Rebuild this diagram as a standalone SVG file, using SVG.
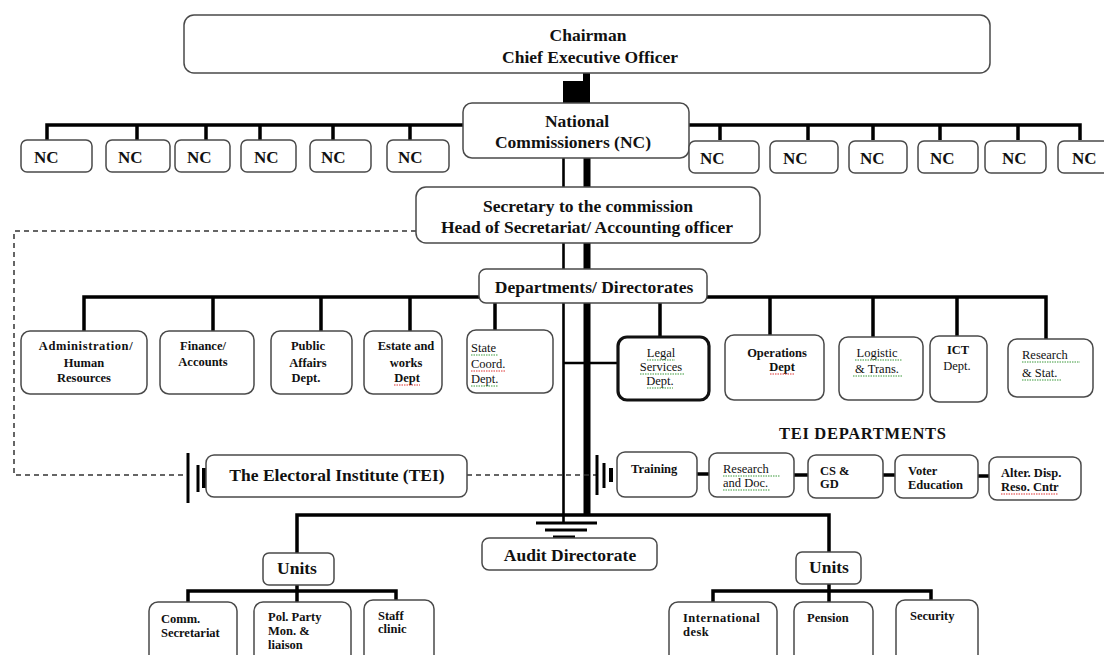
<svg xmlns="http://www.w3.org/2000/svg" width="1104" height="655" viewBox="0 0 1104 655">
<style>
  .box{fill:#fff;stroke:#4a4a4a;stroke-width:1.5}
  .thick{fill:#fff;stroke:#111;stroke-width:3.2}
  .ln{stroke:#000;stroke-width:3.5;fill:none}
  .ln2{stroke:#000;stroke-width:2.6;fill:none}
  .dash{stroke:#333;stroke-width:1.5;fill:none;stroke-dasharray:5 4}
  text{font-family:"Liberation Serif","Times New Roman",serif;fill:#111}
  .b{font-weight:bold}
  .big{font-size:17.5px;font-weight:bold;text-anchor:middle}
  .nc{font-size:17px;font-weight:bold}
  .s{font-size:12.5px}
  .m{text-anchor:middle}
  .sg{stroke:#3d9a3d;stroke-width:1.2;stroke-dasharray:1.5 1;fill:none}
  .sr{stroke:#d33;stroke-width:1.2;stroke-dasharray:1.5 1;fill:none}
</style>

<g id="connectors">
  <!-- chairman to national -->
  <rect x="563" y="81" width="22" height="22" fill="#000"/>
  <rect x="583" y="73" width="7" height="30" fill="#000"/>
  <!-- trunk -->
  <line x1="563.5" y1="158" x2="563.5" y2="523" class="ln2"/>
  <line x1="587" y1="158" x2="587" y2="515" stroke="#000" stroke-width="7"/>
  <!-- NC left -->
  <path class="ln" d="M463 125 H47 V140 M137 125 V140 M206 125 V140 M260 125 V140 M333 125 V140 M410 125 V140"/>
  <!-- NC right -->
  <path class="ln" d="M689 125 H1080 V140 M720 125 V140 M808 125 V140 M873 125 V140 M940 125 V140 M1018 125 V140"/>
  <!-- departments bar -->
  <path class="ln" d="M479 297 H84 V331 M213 297 V331 M321 297 V331 M410 297 V331 M495 297 V331"/>
  <path class="ln" d="M707 297 H1046 V339 M660 297 V337 M770 297 V335 M873 297 V337 M957 297 V336"/>
  <!-- trunk to legal -->
  <line x1="563" y1="363" x2="618" y2="363" class="ln2"/>
  <!-- dashed TEI links -->
  <path class="dash" d="M416 231 H14 V475 H188"/>
  <line class="dash" x1="467" y1="475" x2="597" y2="475"/>
  <!-- TEI left symbol -->
  <line x1="188" y1="453" x2="188" y2="503" stroke="#000" stroke-width="3"/>
  <line x1="198" y1="465" x2="198" y2="492" stroke="#000" stroke-width="3"/>
  <line x1="204" y1="468" x2="204" y2="488" stroke="#000" stroke-width="4"/>
  <!-- TEI departments symbol -->
  <line x1="597" y1="455" x2="597" y2="495" stroke="#000" stroke-width="3"/>
  <line x1="604" y1="463" x2="604" y2="488" stroke="#000" stroke-width="3"/>
  <line x1="611" y1="468" x2="611" y2="482" stroke="#000" stroke-width="4"/>
  <!-- TEI departments chain -->
  <path class="ln" d="M697 474 H709 M794 475 H808 M883 475 H895 M978 476 H989" stroke-width="4"/>
  <!-- audit bar -->
  <path class="ln" d="M297 553 V515 H829 V552"/>
  <!-- ground under trunk -->
  <line x1="536" y1="523" x2="597" y2="523" stroke="#000" stroke-width="3"/>
  <line x1="545" y1="530" x2="587" y2="530" stroke="#000" stroke-width="3"/>
  <line x1="553" y1="537" x2="575" y2="537" stroke="#000" stroke-width="3"/>
  <!-- units bars -->
  <path class="ln" d="M297 585 V591 M188 602 V591 H396 V602 M297 591 V602"/>
  <path class="ln" d="M829 584 V591 M713 602 V591 H931 V602 M829 591 V602"/>
</g>

<g id="chairman">
  <rect class="box" x="184" y="15" width="806" height="58" rx="10"/>
  <text class="big" x="588" y="41">Chairman</text>
  <text class="big" x="590" y="63">Chief Executive Officer</text>
</g>

<g id="national">
  <rect class="box" x="463" y="103" width="226" height="55" rx="9"/>
  <text class="big" x="577" y="127">National</text>
  <text class="big" x="573" y="148">Commissioners (NC)</text>
</g>

<g id="nc-left">
  <g id="nc1"><rect class="box" x="21" y="140" width="71" height="32" rx="6"/><text class="nc" x="34" y="163">NC</text></g>
  <g id="nc2"><rect class="box" x="106" y="140" width="64" height="32" rx="6"/><text class="nc" x="118" y="163">NC</text></g>
  <g id="nc3"><rect class="box" x="175" y="140" width="55" height="32" rx="6"/><text class="nc" x="187" y="163">NC</text></g>
  <g id="nc4"><rect class="box" x="241" y="140" width="55" height="32" rx="6"/><text class="nc" x="254" y="163">NC</text></g>
  <g id="nc5"><rect class="box" x="310" y="140" width="61" height="32" rx="6"/><text class="nc" x="321" y="163">NC</text></g>
  <g id="nc6"><rect class="box" x="387" y="140" width="62" height="32" rx="6"/><text class="nc" x="398" y="163">NC</text></g>
</g>
<g id="nc-right">
  <g id="nc7"><rect class="box" x="689" y="141" width="70" height="32" rx="6"/><text class="nc" x="700" y="164">NC</text></g>
  <g id="nc8"><rect class="box" x="770" y="141" width="68" height="32" rx="6"/><text class="nc" x="783" y="164">NC</text></g>
  <g id="nc9"><rect class="box" x="849" y="141" width="58" height="32" rx="6"/><text class="nc" x="860" y="164">NC</text></g>
  <g id="nc10"><rect class="box" x="918" y="141" width="60" height="32" rx="6"/><text class="nc" x="930" y="164">NC</text></g>
  <g id="nc11"><rect class="box" x="985" y="141" width="61" height="32" rx="6"/><text class="nc" x="1002" y="164">NC</text></g>
  <g id="nc12"><rect class="box" x="1058" y="141" width="56" height="32" rx="6"/><text class="nc" x="1072" y="164">NC</text></g>
</g>

<g id="secretary">
  <rect class="box" x="416" y="187" width="344" height="56" rx="10"/>
  <text class="big" x="588" y="212">Secretary to the commission</text>
  <text class="big" x="587" y="233">Head of Secretariat/ Accounting officer</text>
</g>

<g id="departments">
  <rect class="box" x="479" y="269" width="228" height="34" rx="7"/>
  <text class="big" x="594" y="293">Departments/ Directorates</text>
</g>

<g id="dept-admin">
  <rect class="box" x="21" y="331" width="126" height="63" rx="9"/>
  <text class="s b m" x="86" y="350" letter-spacing="0.6">Administration/</text>
  <text class="s b m" x="84" y="367">Human</text>
  <text class="s b m" x="84" y="382">Resources</text>
</g>
<g id="dept-finance">
  <rect class="box" x="160" y="331" width="94" height="63" rx="9"/>
  <text class="s b m" x="203" y="350">Finance/</text>
  <text class="s b m" x="203" y="366">Accounts</text>
</g>
<g id="dept-public">
  <rect class="box" x="271" y="331" width="81" height="63" rx="9"/>
  <text class="s b m" x="308" y="350">Public</text>
  <text class="s b m" x="308" y="367">Affairs</text>
  <text class="s b m" x="306" y="382">Dept.</text>
</g>
<g id="dept-estate">
  <rect class="box" x="364" y="331" width="78" height="63" rx="9"/>
  <text class="s b m" x="406" y="350">Estate and</text>
  <text class="s b m" x="406" y="367">works</text>
  <text class="s b m" x="407" y="382">Dept</text>
  <line class="sr" x1="394" y1="385" x2="420" y2="385"/>
</g>
<g id="dept-state">
  <rect class="box" x="467" y="330" width="86" height="63" rx="9"/>
  <text class="s" x="471" y="352">State</text>
  <text class="s" x="471" y="368">Coord.</text>
  <text class="s" x="471" y="383">Dept.</text>
  <line class="sg" x1="471" y1="355" x2="498" y2="355"/>
  <line class="sr" x1="471" y1="371" x2="505" y2="371"/>
  <line class="sg" x1="471" y1="386" x2="498" y2="386"/>
</g>
<g id="dept-legal">
  <rect class="thick" x="618" y="337" width="91" height="63" rx="9"/>
  <text class="s m" x="661" y="357">Legal</text>
  <text class="s m" x="661" y="371">Services</text>
  <text class="s m" x="660" y="385">Dept.</text>
  <line class="sg" x1="647" y1="360" x2="675" y2="360"/>
  <line class="sg" x1="640" y1="374" x2="684" y2="374"/>
  <line class="sg" x1="647" y1="388" x2="673" y2="388"/>
</g>
<g id="dept-operations">
  <rect class="box" x="725" y="335" width="99" height="65" rx="9"/>
  <text class="s b m" x="777" y="357">Operations</text>
  <text class="s b m" x="782" y="371">Dept</text>
  <line class="sr" x1="770" y1="374" x2="795" y2="374"/>
</g>
<g id="dept-logistic">
  <rect class="box" x="839" y="337" width="84" height="63" rx="9"/>
  <text class="s m" x="877" y="357">Logistic</text>
  <text class="s m" x="877" y="373">&amp; Trans.</text>
  <line class="sg" x1="855" y1="360" x2="902" y2="360"/>
  <line class="sg" x1="853" y1="376" x2="902" y2="376"/>
</g>
<g id="dept-ict">
  <rect class="box" x="930" y="336" width="57" height="66" rx="9"/>
  <text class="s b m" x="958" y="354">ICT</text>
  <text class="s m" x="957" y="370">Dept.</text>
</g>
<g id="dept-research">
  <rect class="box" x="1008" y="339" width="85" height="58" rx="9"/>
  <text class="s" x="1022" y="359">Research</text>
  <text class="s" x="1022" y="377">&amp; Stat.</text>
  <line class="sg" x1="1022" y1="362" x2="1080" y2="362"/>
  <line class="sg" x1="1022" y1="380" x2="1062" y2="380"/>
</g>

<g id="tei">
  <rect class="box" x="206" y="455" width="261" height="42" rx="8"/>
  <text class="big" x="337" y="481">The Electoral Institute (TEI)</text>
</g>

<text class="b" x="779" y="439" font-size="16.5" textLength="167">TEI DEPARTMENTS</text>

<g id="tei-training">
  <rect class="box" x="617" y="452" width="80" height="45" rx="8"/>
  <text class="s b" x="631" y="473">Training</text>
</g>
<g id="tei-research">
  <rect class="box" x="709" y="453" width="85" height="44" rx="8"/>
  <text class="s" x="723" y="473">Research</text>
  <text class="s" x="723" y="487">and Doc.</text>
  <line class="sg" x1="723" y1="476" x2="780" y2="476"/>
  <line class="sg" x1="723" y1="490" x2="770" y2="490"/>
</g>
<g id="tei-csgd">
  <rect class="box" x="808" y="455" width="75" height="43" rx="8"/>
  <text class="s b" x="820" y="475">CS &amp;</text>
  <text class="s b" x="820" y="488">GD</text>
</g>
<g id="tei-voter">
  <rect class="box" x="895" y="455" width="83" height="43" rx="8"/>
  <text class="s b" x="908" y="475">Voter</text>
  <text class="s b" x="908" y="489">Education</text>
</g>
<g id="tei-alter">
  <rect class="box" x="989" y="457" width="92" height="43" rx="8"/>
  <text class="s b" x="1001" y="477">Alter. Disp.</text>
  <text class="s b" x="1001" y="491">Reso. Cntr</text>
  <line class="sr" x1="1001" y1="494" x2="1058" y2="494"/>
</g>

<g id="audit">
  <rect class="box" x="482" y="538" width="175" height="32" rx="7"/>
  <text class="big" x="570" y="561" font-size="18">Audit Directorate</text>
</g>

<g id="units-left">
  <rect class="box" x="263" y="553" width="71" height="32" rx="6"/>
  <text class="big" x="297" y="574">Units</text>
</g>
<g id="unit-comm">
  <rect class="box" x="149" y="602" width="88" height="70" rx="9"/>
  <text class="s b" x="161" y="623">Comm.</text>
  <text class="s b" x="161" y="637">Secretariat</text>
</g>
<g id="unit-pol">
  <rect class="box" x="254" y="602" width="97" height="70" rx="9"/>
  <text class="s b" x="268" y="621">Pol. Party</text>
  <text class="s b" x="268" y="635">Mon. &amp;</text>
  <text class="s b" x="268" y="649">liaison</text>
</g>
<g id="unit-staff">
  <rect class="box" x="364" y="600" width="70" height="72" rx="9"/>
  <text class="s b" x="378" y="620">Staff</text>
  <text class="s b" x="378" y="633">clinic</text>
</g>

<g id="units-right">
  <rect class="box" x="796" y="552" width="65" height="32" rx="6"/>
  <text class="big" x="829" y="573">Units</text>
</g>
<g id="unit-intl">
  <rect class="box" x="669" y="602" width="108" height="70" rx="9"/>
  <text class="s b" x="683" y="622" letter-spacing="0.5">International</text>
  <text class="s b" x="683" y="636" letter-spacing="0.5">desk</text>
</g>
<g id="unit-pension">
  <rect class="box" x="794" y="602" width="79" height="70" rx="9"/>
  <text class="s b" x="807" y="622">Pension</text>
</g>
<g id="unit-security">
  <rect class="box" x="896" y="600" width="82" height="72" rx="9"/>
  <text class="s b" x="910" y="620">Security</text>
</g>
</svg>
